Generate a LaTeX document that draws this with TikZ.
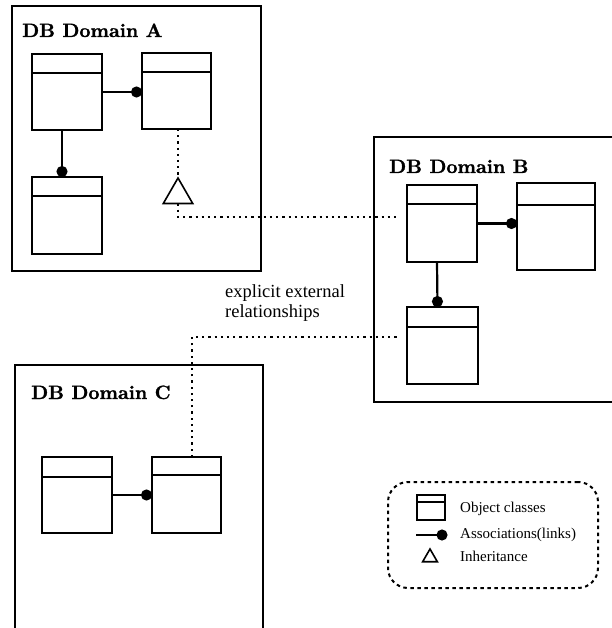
\documentclass[tikz,border=0pt]{standalone}
\usepackage{fontspec}
\newfontfamily\timesfont{Liberation Serif}
\newfontfamily\titlefont[FakeBold=1.2]{lmroman10-bold.otf}
\usetikzlibrary{arrows.meta,shapes.geometric}
\tikzset{
  domainframe/.style={line width=1.8pt},
  objclass/.style={draw, line width=2.2pt, rectangle, anchor=north west, inner sep=0pt, outer sep=0pt},
  hdrline/.style={line width=2pt},
  assoc/.style={line width=2.2pt, -{Circle[length=11pt]}},
  extrel/.style={line width=2pt, dash pattern=on 2.2pt off 4pt},
  inhtri/.style={draw, regular polygon, regular polygon sides=3, inner sep=0pt, outer sep=0pt, line width=1.6pt},
  dtitle/.style={anchor=base west, inner sep=0pt, font=\titlefont\fontsize{19.3}{22}\selectfont},
  lbltext/.style={anchor=base west, inner sep=0pt, font=\timesfont\fontsize{18.5}{22}\selectfont},
  legtext/.style={anchor=base west, inner sep=0pt, font=\timesfont\fontsize{15}{18}\selectfont},
  legendbox/.style={draw, rounded corners=20pt, line width=2pt, dash pattern=on 3.5pt off 3.5pt, anchor=north west, inner sep=0pt, outer sep=0pt},
}
\newcommand\hdr[2]{\draw[hdrline] ([yshift=-#2pt]#1.north west) -- ([yshift=-#2pt]#1.north east);}
\begin{document}
\begin{tikzpicture}[x=1pt,y=-1pt]
\useasboundingbox (0,0) rectangle (611,628);
% domain frames
\draw[domainframe] (12,6) rectangle (261,271);
\draw[domainframe] (615,137) -| (374,402) -- (615,402);
\draw[domainframe] (15,632) |- (263,365) -- (263,632);
% titles
\node[dtitle] (tA) at (22,37) {DB Domain A};
\node[dtitle] (tB) at (389,173) {DB Domain B};
\node[dtitle] (tC) at (31,399) {DB Domain C};
% Domain A classes
\node[objclass, minimum width=70pt, minimum height=76pt] (a1) at (32,54) {};
\node[objclass, minimum width=69pt, minimum height=76pt] (a2) at (142,53) {};
\node[objclass, minimum width=70pt, minimum height=77pt] (a3) at (32,177) {};
\hdr{a1}{19}
\hdr{a2}{19}
\hdr{a3}{19}
\draw[assoc] (a1.east) -- (a1.east -| a2.west);
\draw[assoc] ([xshift=-5pt]a1.south) -- ([xshift=-5pt]a3.north);
% inheritance triangle
\node[inhtri, minimum size=34pt] (tri) at (178,195) {};
% Domain B classes
\node[objclass, minimum width=70pt, minimum height=77pt] (b1) at (407,185) {};
\node[objclass, minimum width=78pt, minimum height=87pt] (b2) at (517,183) {};
\node[objclass, minimum width=71pt, minimum height=77pt] (b3) at (407,307) {};
\hdr{b1}{19}
\hdr{b2}{22}
\hdr{b3}{20}
\draw[assoc] (b1.east) -- (b1.east -| b2.west);
\draw[assoc] ([xshift=-5pt]b1.south) -- ([xshift=-5pt]b3.north);
% Domain C classes
\node[objclass, minimum width=70pt, minimum height=76pt] (c1) at (42,457) {};
\node[objclass, minimum width=69pt, minimum height=76pt] (c2) at (152,457) {};
\hdr{c1}{20}
\hdr{c2}{18}
\draw[assoc] (c1.east) -- (c1.east -| c2.west);
% external relationships
\draw[extrel] (tri.north |- a2.south) -- (tri.north);
\draw[extrel, shorten >=10pt] (tri.south) |- ([yshift=6.5pt]b1.west);
\draw[extrel, shorten >=7pt] ([xshift=5.5pt]c2.north) |- ([yshift=8.5pt]b3.west);
\node[lbltext] (lbl1) at (225,297) {explicit external};
\node[lbltext] (lbl2) at (225,317) {relationships};
% legend
\node[legendbox, minimum width=210pt, minimum height=106pt] (legend) at (388,482) {};
\node[objclass, line width=1.6pt, minimum width=28pt, minimum height=25pt] (legcls) at (417,495) {};
\hdr{legcls}{7}
\coordinate (lassocS) at (416,535);
\coordinate (lassocE) at (447.5,535);
\draw[assoc, line width=2pt] (lassocS) -- (lassocE);
\node[inhtri, minimum size=17pt, line width=1.6pt] (legtri) at (430,557.5) {};
\node[legtext] (leg1) at (460,512) {Object classes};
\node[legtext] (leg2) at (460,538) {Associations(links)};
\node[legtext] (leg3) at (460,561) {Inheritance};
\end{tikzpicture}
\end{document}
